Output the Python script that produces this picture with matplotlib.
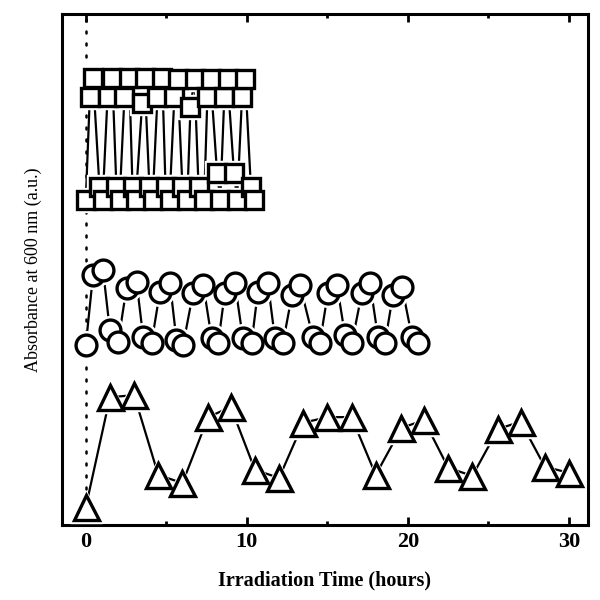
import matplotlib
matplotlib.use('Agg')
import matplotlib.pyplot as plt
from matplotlib.ticker import MultipleLocator

# absorbance (arbitrary units)
sq_t = [0.0, 0.25, 0.45, 0.85, 1.05, 1.35, 1.65, 1.9, 2.1, 2.4, 2.7, 2.9, 3.1,
        3.5, 3.65, 3.95, 4.15, 4.45, 4.75, 4.95, 5.2, 5.5, 5.7, 6.0, 6.3,
        6.5, 6.75, 7.0, 7.35, 7.55, 7.75, 8.15, 8.35, 8.6, 8.8, 9.2, 9.4,
        9.7, 9.9, 10.25, 10.45]
sq_a = [0.636, 0.838, 0.875, 0.661, 0.636, 0.838, 0.875, 0.661, 0.636,
        0.838, 0.875, 0.661, 0.636, 0.826, 0.875, 0.661, 0.636, 0.838, 0.875,
        0.661, 0.636, 0.838, 0.873, 0.661, 0.636, 0.818, 0.873, 0.661, 0.636,
        0.838, 0.873, 0.689, 0.636, 0.838, 0.873, 0.689, 0.636, 0.838, 0.873,
        0.661, 0.636]

ci_t = [0.0, 0.45, 1.07, 1.49, 2.01, 2.53, 3.15, 3.56, 4.08, 4.6, 5.22, 5.63,
        6.04, 6.66, 7.29, 7.81, 8.22, 8.63, 9.25, 9.75, 10.29, 10.68, 11.3,
        11.74, 12.24, 12.8, 13.29, 14.1, 14.53, 15.03, 15.59, 16.09, 16.52,
        17.14, 17.64, 18.14, 18.57, 19.07, 19.63, 20.25, 20.62]
ci_a = [0.352, 0.489, 0.499, 0.382, 0.358, 0.464, 0.476, 0.368, 0.356, 0.456,
        0.474, 0.362, 0.352, 0.454, 0.47, 0.366, 0.356, 0.454, 0.474, 0.366,
        0.356, 0.456, 0.474, 0.366, 0.356, 0.45, 0.47, 0.368, 0.356, 0.454,
        0.47, 0.372, 0.356, 0.454, 0.474, 0.368, 0.356, 0.45, 0.466, 0.368,
        0.356]

tr_t = [0, 1.5, 3.0, 4.5, 6.0, 7.6, 9.0, 10.5, 12.0, 13.5, 15.0, 16.5, 18.0,
        19.6, 21.0, 22.5, 24.0, 25.6, 27.0, 28.5, 30.0]
tr_a = [0.035, 0.25, 0.254, 0.098, 0.082, 0.211, 0.231, 0.108, 0.092, 0.2,
        0.211, 0.211, 0.098, 0.19, 0.205, 0.112, 0.096, 0.188, 0.202, 0.114,
        0.102]

plt.rcParams['font.family'] = 'Liberation Serif'

fig = plt.figure(figsize=(6, 6), dpi=100)
ax = fig.add_axes([0.103, 0.125, 0.877, 0.852])

ax.axvline(0, color='black', lw=1.8, dashes=(0.8, 4), dash_capstyle='round', zorder=1)

def series(t, a, marker, ms):
    ax.plot(t, a, '-', color='black', lw=1.6, zorder=2)
    # white halo so the joining lines stop short of the symbols
    ax.plot(t, a, marker, ms=ms + 5, color='white', mec='white', ls='none', zorder=3)
    for x, y in zip(t, a):
        ax.plot([x], [y], marker, ms=ms, mfc='white', mec='black', mew=2.4, zorder=4)

series(sq_t, sq_a, 's', 12.5)
series(ci_t, ci_a, 'o', 15)
series(tr_t, tr_a, '^', 18)

ax.set_xlim(-1.49, 31.18)
ax.set_ylim(0, 1)
ax.set_yticks([])
ax.xaxis.set_major_locator(MultipleLocator(10))
ax.xaxis.set_minor_locator(MultipleLocator(5))
ax.tick_params(axis='x', which='major', direction='in', length=6, width=2,
               top=True, labelsize=16, pad=5)
ax.tick_params(axis='x', which='minor', direction='in', length=3, width=2, top=True)
for lab in ax.get_xticklabels():
    lab.set_fontweight('bold')
for s in ax.spines.values():
    s.set_linewidth(2.2)

ax.set_xlabel('Irradiation Time (hours)', fontsize=14.5, fontweight='bold', labelpad=13)
ax.set_ylabel('Absorbance at 600 nm (a.u.)', fontsize=13, labelpad=14)

fig.savefig('out.png', dpi=100)
